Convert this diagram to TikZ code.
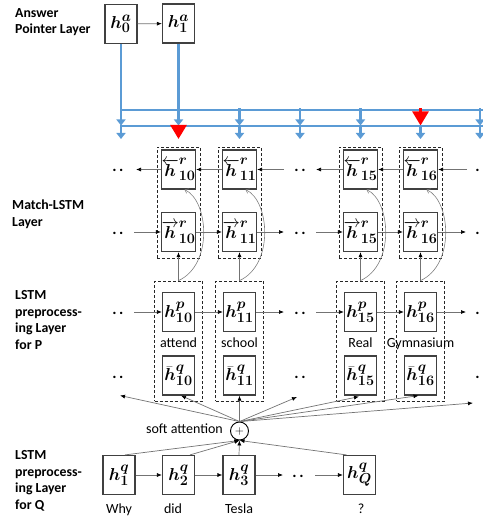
\documentclass[tikz,border=0pt]{standalone}
\usepackage[no-math]{fontspec}
\setmainfont{Carlito}
\usepackage{bm}
\DeclareMathSizes{19}{19}{14}{10}
\usetikzlibrary{arrows.meta,calc}
\definecolor{busblue}{RGB}{91,155,213}
\definecolor{ptrred}{RGB}{255,0,0}
\tikzset{
  sbox/.style={draw=black!75, line width=1.2pt, fill=white, minimum width=32pt,
    minimum height=39pt, inner sep=0pt, font=\fontsize{19}{19}\selectfont},
  dbox/.style={draw=black!85, dash pattern=on 3pt off 2pt, line width=0.8pt},
  conn/.style={draw=black!55, line width=0.7pt, -{Latex[length=5pt,width=4pt,black]}},
  curv/.style={draw=black!50, line width=0.6pt, -{Straight Barb[length=3pt,width=5pt]}},
  busline/.style={draw=busblue, line width=2.6pt},
  busarr/.style={draw=busblue, line width=2.6pt, -{Triangle[length=6pt,width=9pt]}},
  redarr/.style={draw=ptrred, line width=2.6pt, -{Triangle[length=14pt,width=16pt]}},
  layerlab/.style={font=\fontsize{13.8}{16.5}\selectfont\bfseries, align=left,
    anchor=base west, inner sep=0pt},
  word/.style={font=\fontsize{14}{14}\selectfont, inner sep=0pt, anchor=base},
  dots/.style={font=\fontsize{16}{16}\selectfont\bfseries, inner sep=0pt, anchor=base}
}
\begin{document}
\begin{tikzpicture}[x=1pt,y=-1pt]
\useasboundingbox (0,0) rectangle (482,518);

% layer captions (anchored at the baseline of their last line)
\node[layerlab] (capA) at (15,34) {Answer\\Pointer Layer};
\node[layerlab] (capM) at (12,226) {Match-LSTM\\Layer};
\node[layerlab] (capP) at (15,349) {LSTM\\preprocess-\\ing Layer\\for P};
\node[layerlab] (capQ) at (15,509) {LSTM\\preprocess-\\ing Layer\\for Q};

% answer pointer states
\node[sbox] (a0) at (121,24) {$\bm h^{\bm a}_{\mathbf 0}$};
\node[sbox] (a1) at (178.5,23.5) {$\bm h^{\bm a}_{\mathbf 1}$};
\draw[conn] (a0) -- (a1);

% pointer bus
\coordinate (hubA) at (121,110);
\coordinate (hubB) at (178.5,110);
\draw[busline] (a0.south) -- (hubA);
\draw[busline] (a1.south) -- (hubB);
\coordinate (busUend) at (490,110);
\coordinate (busLstart) at (121,126);
\coordinate (busLend) at (490,126);
\draw[busline] (hubA) -- (busUend);
\draw[busline] (busLstart) -- (busLend);
\foreach \k/\x/\su/\sl in {1/121/busarr/busarr, 2/178.5/busarr/redarr,
    3/239.5/busarr/busarr, 4/300/busarr/busarr, 5/360.5/busarr/busarr,
    6/420.5/redarr/busarr, 7/480/busarr/busarr} {
  \coordinate (u\k) at (\x,108.5);
  \coordinate (l\k) at (\x,125.5);
  \coordinate (e\k) at (\x,139);
  \draw[\su] (u\k) -- (l\k);
  \draw[\sl] (l\k) -- (e\k);
}

% passage columns
\foreach \id/\cx/\word in {10/178.5/attend, 11/239.5/school, 15/360.5/Real, 16/420.5/Gymnasium} {
  \node[dbox, minimum width=43pt, minimum height=111pt] (M\id) at (\cx,202.5) {};
  \node[dbox, minimum width=48pt, minimum height=120pt] (P\id) at (\cx,341) {};
  \node[sbox] (b\id) at (\cx,169.5) {$\overleftarrow{\bm h}^{\bm r}_{\mathbf{\id}}$};
  \node[sbox] (f\id) at (\cx,232) {$\overrightarrow{\bm h}^{\bm r}_{\mathbf{\id}}$};
  \node[sbox] (p\id) at (\cx,312) {$\bm h^{\bm p}_{\mathbf{\id}}$};
  \node[sbox] (q\id) at (\cx,375.5) {$\bar{\bm h}^{\bm q}_{\mathbf{\id}}$};
  \node[word] (w\id) at (\cx,347) {\word};
  \draw[conn] (P\id.north) -- (f\id.south);
  \draw[curv] (P\id.north) .. controls ($(P\id.north)+(35,-16)$) and ($(b\id.south)+(30,11)$) .. ($(b\id.south)+(6,0)$);
}

% ellipsis marks
\foreach \k/\x in {L/118, M/300, R/481} {
  \node[dots] (db\k) at (\x,172) {.\kern2.5pt.};
  \node[dots] (df\k) at (\x,234.5) {.\kern2.5pt.};
  \node[dots] (dp\k) at (\x,314.5) {.\kern2.5pt.};
  \node[dots] (dq\k) at (\x,378) {.\kern2.5pt.};
}

% backward match-LSTM row
\coordinate (bR) at (467,169.5);
\coordinate (bM1) at (316,169.5);
\coordinate (bM2) at (284,169.5);
\coordinate (bL) at (136,169.5);
\draw[conn] (bR) -- (b16);
\draw[conn] (b16) -- (b15);
\draw[conn] (b15) -- (bM1);
\draw[conn] (bM2) -- (b11);
\draw[conn] (b11) -- (b10);
\draw[conn] (b10) -- (bL);

% forward match-LSTM row and passage LSTM row
\foreach \r/\y in {f/232, p/312} {
  \coordinate (\r L) at (134,\y);
  \coordinate (\r M1) at (284,\y);
  \coordinate (\r M2) at (316,\y);
  \coordinate (\r R) at (466,\y);
  \draw[conn] (\r L) -- (\r10);
  \draw[conn] (\r10) -- (\r11);
  \draw[conn] (\r11) -- (\r M1);
  \draw[conn] (\r M2) -- (\r15);
  \draw[conn] (\r15) -- (\r16);
  \draw[conn] (\r16) -- (\r R);
}

% soft attention
\node[draw, circle, line width=0.9pt, minimum size=18pt, inner sep=0pt,
  font=\fontsize{13}{13}\selectfont] (sa) at (239.5,431) {$+$};
\node[word, anchor=base east] (salab) at (223,433) {soft attention};
\coordinate (fanL) at (120,395.5);
\coordinate (fanM) at (297,397);
\coordinate (fanR) at (473,403);
\draw[conn] (sa.north) -- (fanL);
\draw[conn] (sa.north) -- ($(q10.south)+(2.5,0)$);
\draw[conn] (sa.north) -- (q11.south);
\draw[conn] (sa.north) -- (fanM);
\draw[conn] (sa.north) -- ($(q15.south)+(-1.5,1)$);
\draw[conn] (sa.north) -- ($(q16.south)+(-2,0)$);
\draw[conn] (sa.north) -- (fanR);

% question LSTM row
\node[sbox] (h1) at (119,475) {$\bm h^{\bm q}_{\mathbf 1}$};
\node[sbox] (h2) at (178.5,475) {$\bm h^{\bm q}_{\mathbf 2}$};
\node[sbox] (h3) at (239,475) {$\bm h^{\bm q}_{\mathbf 3}$};
\node[sbox] (hQ) at (359.5,475) {$\bm h^{\bm q}_{\bm Q}$};
\node[dots] (dQ) at (298,477.5) {.\kern2.5pt.};
\coordinate (qM1) at (283,475);
\coordinate (qM2) at (315,475);
\draw[conn] (h1) -- (h2);
\draw[conn] (h2) -- (h3);
\draw[conn] (h3) -- (qM1);
\draw[conn] (qM2) -- (hQ);
\draw[conn] ($(h1.north)+(6,0)$) -- (sa.south);
\draw[conn] ($(h2.north)+(11.5,0)$) -- (sa.south);
\draw[conn] (h3.north) -- (sa.south);
\draw[conn] ($(hQ.north)+(-13,0)$) -- (sa.south);
\node[word] (wWhy) at (119,513) {Why};
\node[word] (wDid) at (173,513) {did};
\node[word] (wTesla) at (239,513) {Tesla};
\node[word] (wQm) at (361,513) {?};
\end{tikzpicture}
\end{document}
